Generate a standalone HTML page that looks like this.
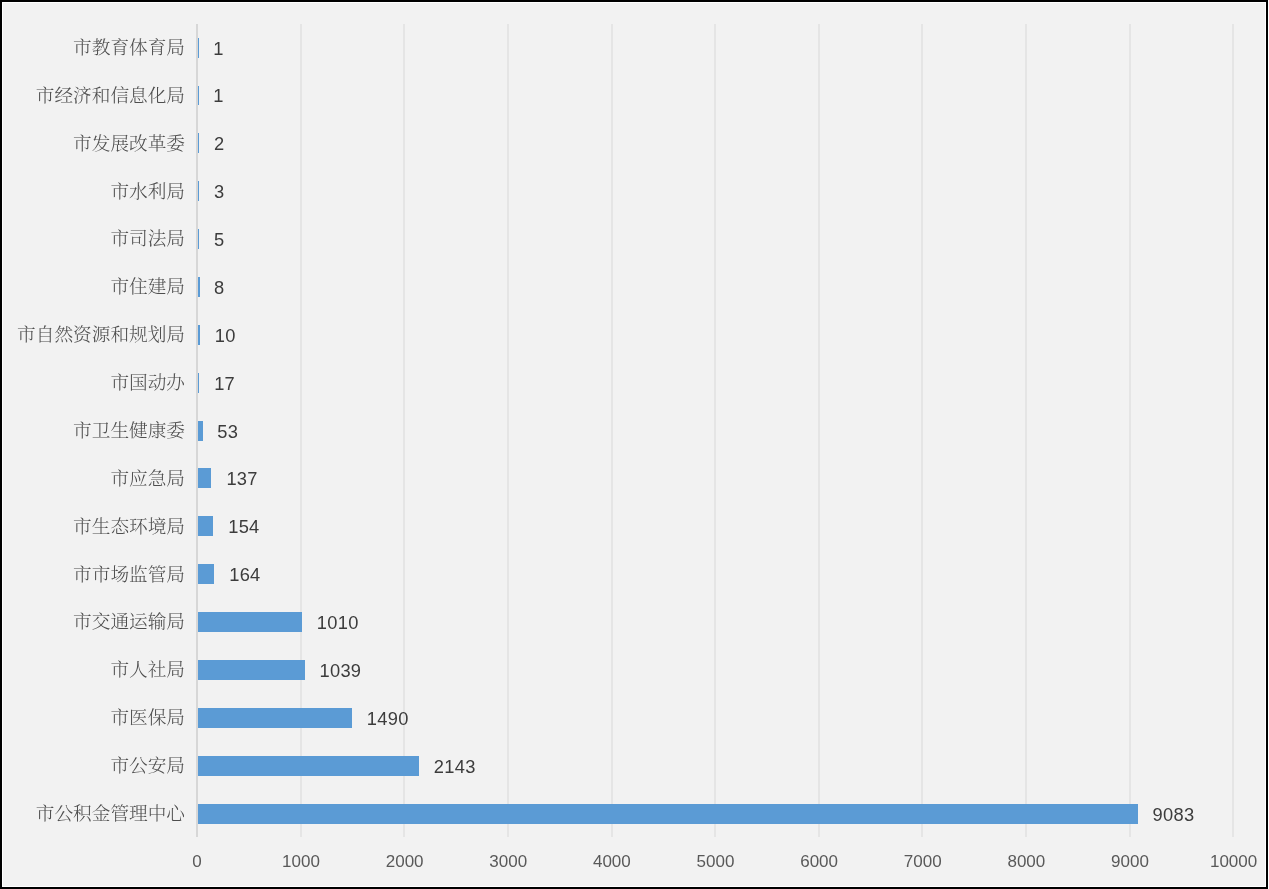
<!DOCTYPE html>
<html lang="zh-CN">
<head>
<meta charset="utf-8">
<title>市直部门数据统计</title>
<style>
html,body{margin:0;padding:0;background:#fff;}
body{width:1269px;height:889px;overflow:hidden;position:relative;}
svg{position:absolute;left:0;top:0;display:block;}
.cat{font-family:"Liberation Serif","Noto Serif CJK SC",serif;font-size:18.67px;fill:#4d4d4d;font-weight:300;text-anchor:end;}
.val{font-family:"Liberation Sans",sans-serif;font-size:18.3px;letter-spacing:0.3px;fill:#3c3c3c;text-anchor:middle;}
.ax{font-family:"Liberation Sans",sans-serif;font-size:17px;letter-spacing:0px;fill:#595959;text-anchor:middle;}
</style>
</head>
<body>
<svg width="1269" height="889" viewBox="0 0 1269 889" shape-rendering="crispEdges">
<rect x="0" y="0" width="1269" height="889" fill="#ffffff"/>
<rect x="0" y="0" width="1268" height="889" fill="#000000"/>
<rect x="2" y="2" width="1264" height="885" fill="#ffffff"/>
<rect x="3" y="3" width="1262" height="883" fill="#f2f2f2"/>
<g fill="#e5e5e5">
<rect x="300" y="24" width="2" height="813"/>
<rect x="403" y="24" width="2" height="813"/>
<rect x="507" y="24" width="2" height="813"/>
<rect x="611" y="24" width="2" height="813"/>
<rect x="714" y="24" width="2" height="813"/>
<rect x="818" y="24" width="2" height="813"/>
<rect x="921" y="24" width="2" height="813"/>
<rect x="1025" y="24" width="2" height="813"/>
<rect x="1129" y="24" width="2" height="813"/>
<rect x="1232" y="24" width="2" height="813"/>
</g>
<rect x="196" y="24" width="2" height="813" fill="#d7d7d7"/>
<g fill="#5b9bd5">
<rect x="198" y="38" width="1" height="20"/>
<rect x="198" y="86" width="1" height="19"/>
<rect x="198" y="133" width="1" height="20"/>
<rect x="198" y="181" width="1" height="20"/>
<rect x="198" y="229" width="1" height="20"/>
<rect x="198" y="277" width="2" height="20"/>
<rect x="198" y="325" width="2" height="20"/>
<rect x="198" y="373" width="1" height="20"/>
<rect x="198" y="421" width="5" height="20"/>
<rect x="198" y="468" width="13" height="20"/>
<rect x="198" y="516" width="15" height="20"/>
<rect x="198" y="564" width="16" height="20"/>
<rect x="198" y="612" width="104" height="20"/>
<rect x="198" y="660" width="107" height="20"/>
<rect x="198" y="708" width="154" height="20"/>
<rect x="198" y="756" width="221" height="20"/>
<rect x="198" y="804" width="940" height="20"/>
</g>
<g class="cat">
<text x="185.00" y="54">市教育体育局</text>
<text x="185.00" y="102">市经济和信息化局</text>
<text x="185.00" y="150">市发展改革委</text>
<text x="185.00" y="198">市水利局</text>
<text x="185.00" y="245">市司法局</text>
<text x="185.00" y="293">市住建局</text>
<text x="185.00" y="341">市自然资源和规划局</text>
<text x="185.00" y="389">市国动办</text>
<text x="185.00" y="437">市卫生健康委</text>
<text x="185.00" y="485">市应急局</text>
<text x="185.00" y="533">市生态环境局</text>
<text x="185.00" y="581">市市场监管局</text>
<text x="185.00" y="628">市交通运输局</text>
<text x="185.00" y="676">市人社局</text>
<text x="185.00" y="724">市医保局</text>
<text x="185.00" y="772">市公安局</text>
<text x="185.00" y="820">市公积金管理中心</text>
</g>
<g class="val">
<text x="218.60" y="55">1</text>
<text x="218.55" y="102">1</text>
<text x="219.25" y="150">2</text>
<text x="219.35" y="198">3</text>
<text x="219.25" y="246">5</text>
<text x="219.30" y="294">8</text>
<text x="225.15" y="342">10</text>
<text x="224.60" y="390">17</text>
<text x="227.80" y="438">53</text>
<text x="242.10" y="485">137</text>
<text x="243.90" y="533">154</text>
<text x="244.90" y="581">164</text>
<text x="337.70" y="629">1010</text>
<text x="340.40" y="677">1039</text>
<text x="387.70" y="725">1490</text>
<text x="454.75" y="773">2143</text>
<text x="1173.50" y="821">9083</text>
</g>
<g class="ax">
<text x="196.90" y="867">0</text>
<text x="301.02" y="867">1000</text>
<text x="404.64" y="867">2000</text>
<text x="508.26" y="867">3000</text>
<text x="611.88" y="867">4000</text>
<text x="715.50" y="867">5000</text>
<text x="819.12" y="867">6000</text>
<text x="922.74" y="867">7000</text>
<text x="1026.36" y="867">8000</text>
<text x="1129.98" y="867">9000</text>
<text x="1233.60" y="867">10000</text>
</g>
</svg>
</body>
</html>
